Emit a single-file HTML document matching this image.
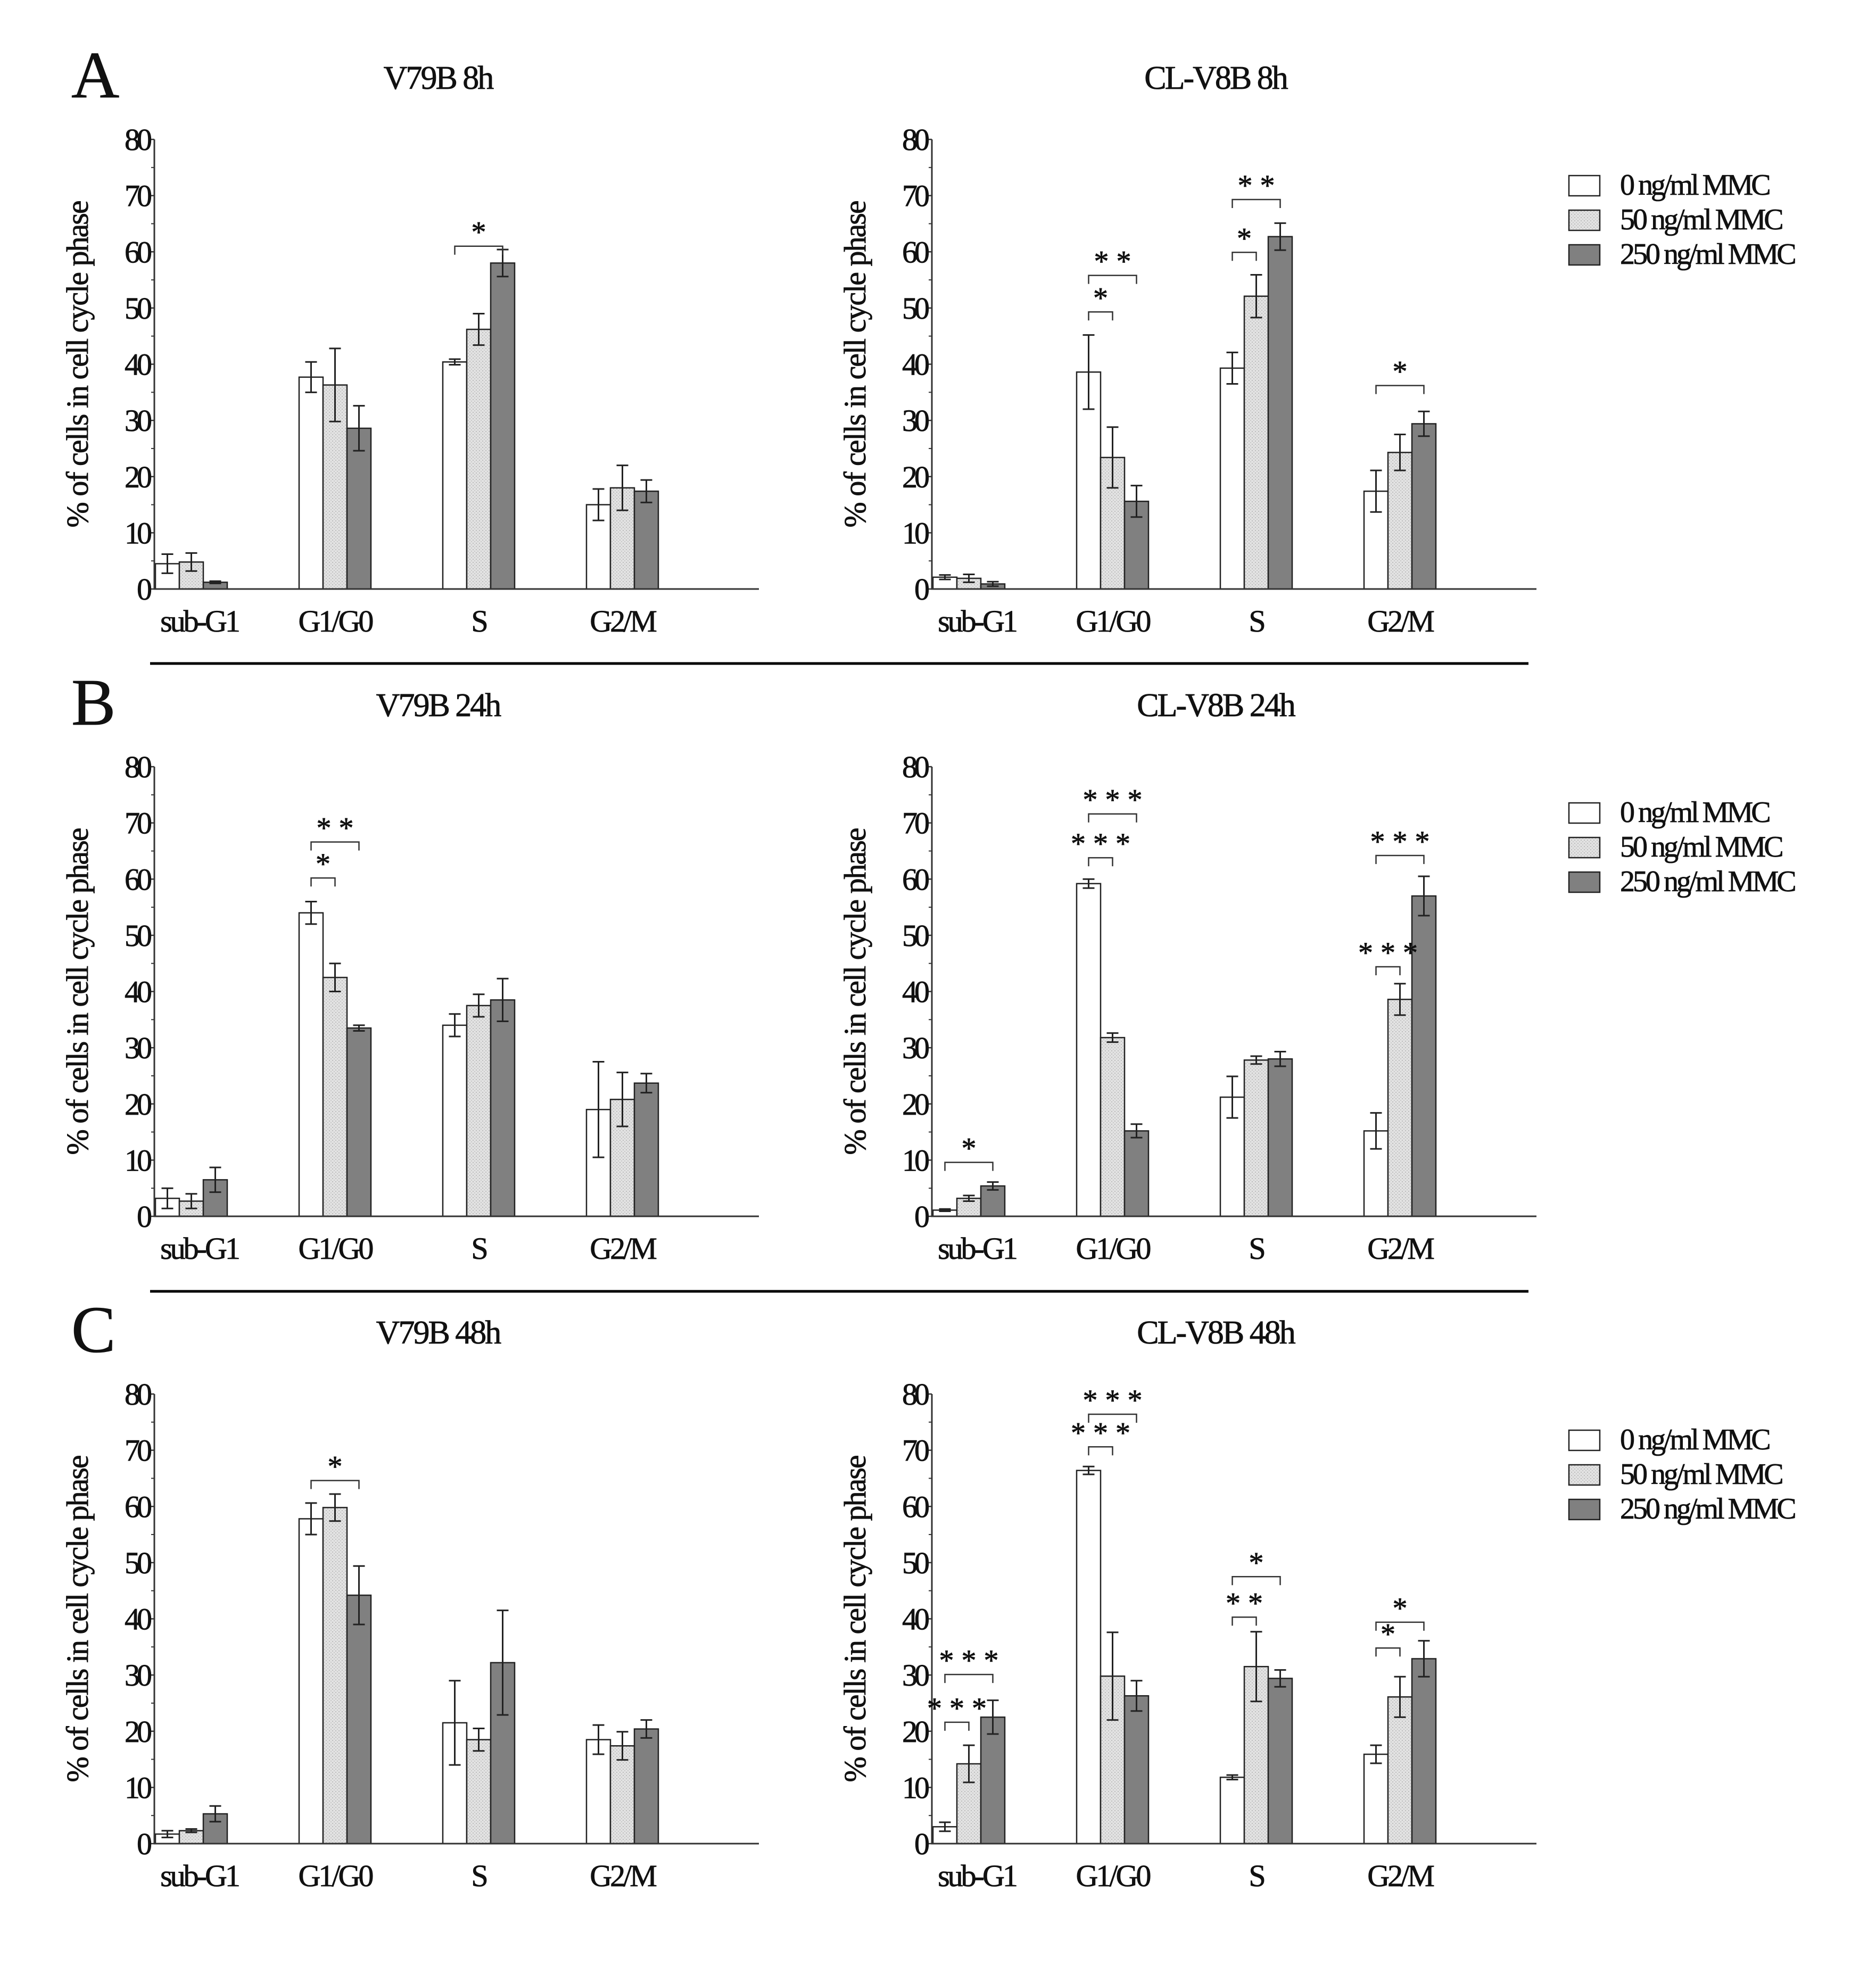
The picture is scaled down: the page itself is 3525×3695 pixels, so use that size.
<!DOCTYPE html>
<html><head><meta charset="utf-8"><style>
html,body{margin:0;padding:0;background:#fff;}
svg text{font-family:"Liberation Serif",serif;fill:#111;stroke:#111;stroke-width:0.8;}
</style></head><body>
<svg id="fig" xmlns="http://www.w3.org/2000/svg" width="3525" height="3690" viewBox="0 0 3525 3690">
<defs>
<pattern id="dots" width="6" height="6" patternUnits="userSpaceOnUse"><rect width="6" height="6" fill="#e2e2e2"/><rect x="0" y="0" width="2" height="2" fill="#bdbdbd"/><rect x="3" y="3" width="2" height="2" fill="#c8c8c8"/></pattern>
</defs>
<g id="root"></g>
</svg>
<script>
const categories = ["sub-G1","G1/G0","S","G2/M"];
const seriesNames = ["0 ng/ml MMC","50 ng/ml MMC","250 ng/ml MMC"];
const yTicks = [0,10,20,30,40,50,60,70,80];
const panelTitles = ["V79B 8h","CL-V8B 8h","V79B 24h","CL-V8B 24h","V79B 48h","CL-V8B 48h"];
const rowLetters = ["A","B","C"];
const means = [
 [[4.5,4.8,1.2],[37.7,36.3,28.6],[40.4,46.2,58.0],[15.0,18.0,17.4]],
 [[2.1,1.9,0.9],[38.6,23.4,15.6],[39.3,52.1,62.7],[17.4,24.3,29.4]],
 [[3.2,2.7,6.5],[54.0,42.5,33.5],[34.0,37.5,38.5],[19.0,20.8,23.7]],
 [[1.1,3.2,5.4],[59.2,31.8,15.2],[21.2,27.8,28.0],[15.2,38.6,57.0]],
 [[1.7,2.3,5.3],[57.8,59.8,44.2],[21.5,18.5,32.2],[18.5,17.4,20.4]],
 [[3.0,14.2,22.5],[66.4,29.8,26.3],[11.8,31.5,29.4],[15.9,26.1,32.9]]
];
const errors = [
 [[1.7,1.6,0.2],[2.7,6.5,4.0],[0.5,2.8,2.4],[2.8,4.0,2.0]],
 [[0.4,0.7,0.4],[6.6,5.4,2.8],[2.8,3.8,2.4],[3.7,3.2,2.2]],
 [[1.8,1.3,2.2],[2.0,2.5,0.5],[2.0,2.0,3.8],[8.5,4.8,1.7]],
 [[0.2,0.5,0.7],[0.8,0.8,1.2],[3.7,0.7,1.3],[3.2,2.8,3.5]],
 [[0.6,0.3,1.4],[2.8,2.4,5.2],[7.5,2.0,9.3],[2.6,2.5,1.6]],
 [[0.8,3.3,3.0],[0.7,7.8,2.7],[0.4,6.2,1.5],[1.6,3.6,3.2]]
];
const brackets = [
 [0,2,0,2,61,"*"],
 [1,1,0,1,49.3,"*"],[1,1,0,2,55.8,"* *"],[1,2,0,1,59.9,"*"],[1,2,0,2,69.3,"* *"],[1,3,0,2,36.2,"*"],
 [2,1,0,1,60.2,"*"],[2,1,0,2,66.6,"* *"],
 [3,0,0,2,9.6,"*"],[3,1,0,1,63.8,"* * *"],[3,1,0,2,71.6,"* * *"],[3,3,0,1,44.4,"* * *"],[3,3,0,2,64.2,"* * *"],
 [4,1,0,2,64.6,"*"],
 [5,0,0,1,21.6,"* * *"],[5,0,0,2,30.1,"* * *"],[5,1,0,1,70.6,"* * *"],[5,1,0,2,76.4,"* * *"],
 [5,2,0,1,40.3,"* *"],[5,2,0,2,47.5,"*"],[5,3,0,1,34.8,"*"],[5,3,0,2,39.4,"*"]
];

const NS="http://www.w3.org/2000/svg";
const root=document.getElementById('root');
function mk(tag,attrs,parent,txt){const e=document.createElementNS(NS,tag);for(const k in attrs)e.setAttribute(k,attrs[k]);if(txt!==undefined)e.textContent=txt;(parent||root).appendChild(e);return e;}
const fills=["#ffffff","url(#dots)","#808080"];
const ROW=1179, PX=10.5625, BW=45, GS=270;
function panelGeom(p){const r=Math.floor(p/2),c=p%2;return {x0:c?1751:290,zy:1107+r*ROW};}

for(let r=0;r<3;r++){
  const t=mk('text',{x:134,y:183+r*ROW,'font-size':125},root,rowLetters[r]);
  
  
  if(r<2){const l=mk('line',{x1:282,x2:2872,y1:1247+r*1180,y2:1247+r*1180,stroke:'#000','stroke-width':5});
    
    }
  const lg=mk('g',{});
  
  
  for(let s=0;s<3;s++){
    const cy=349+s*65+r*ROW;
    const b=mk('rect',{x:2948,y:cy-19,width:58,height:38,fill:fills[s],stroke:'#222','stroke-width':2.5},lg);
    
    
    const tx=mk('text',{x:3044,y:cy+17,'font-size':56,'letter-spacing':-4},lg,seriesNames[s]);
    
    
  }
}

function yScale(p,v){return panelGeom(p).zy - v*PX;}
function xBar(p,c,s){return panelGeom(p).x0+2+c*GS+s*BW;}

for(let p=0;p<6;p++){
  const {x0,zy}=panelGeom(p);
  const g=mk('g',{});
  
  
  const tt=mk('text',{x:x0+533,y:zy-940,'font-size':62,'text-anchor':'middle','letter-spacing':-3},g,panelTitles[p]);
  
  
  const yt=mk('text',{x:0,y:0,'font-size':58,'text-anchor':'middle','letter-spacing':-2,transform:`translate(${x0-125},${zy-422}) rotate(-90)`},g,'% of cells in cell cycle phase');
  
  
  for(let c=0;c<4;c++){
    for(let s=0;s<3;s++){
      const v=means[p][c][s],e=errors[p][c][s];
      const x=xBar(p,c,s),y=yScale(p,v);
      const b=mk('rect',{x:x,y:y,width:BW,height:zy-y,fill:fills[s],stroke:'#222','stroke-width':2.5},g);
      
      
      const cx=x+BW/2,yt1=yScale(p,v+e),yb=yScale(p,Math.max(0,v-e));
      const eb=mk('path',{d:`M${cx} ${yt1}V${yb}M${cx-11} ${yt1}H${cx+11}M${cx-11} ${yb}H${cx+11}`,stroke:'#222','stroke-width':3,fill:'none'},g);
      
      
    }
    const lb=mk('text',{x:xBar(p,c,1)+BW/2+(c==0?15:0),y:zy+80,'font-size':58,'text-anchor':'middle','letter-spacing':-4},g,categories[c]);
    
    
  }
  const ax=mk('path',{d:`M${x0} ${yScale(p,80)}V${zy}H${x0+1136}`,stroke:'#333','stroke-width':3,fill:'none'},g);
  
  
  for(let i=0;i<yTicks.length;i++){
    const y=yScale(p,yTicks[i]);
    mk('line',{x1:x0-10,x2:x0,y1:y,y2:y,stroke:'#333','stroke-width':2.5},g);
    if(i<yTicks.length-1){const ym=yScale(p,yTicks[i]+5);mk('line',{x1:x0-6,x2:x0,y1:ym,y2:ym,stroke:'#333','stroke-width':2},g);}
    const tl=mk('text',{x:x0-10,y:y+20,'font-size':58,'text-anchor':'end','letter-spacing':-6},g,String(yTicks[i]));
    
    
  }
}
for(const br of brackets){
  const [p,c,a,b,lv,st]=br;
  const xa=xBar(p,c,a)+BW/2,xb=xBar(p,c,b)+BW/2,y=yScale(p,lv),yd=y+16;
  const pth=mk('path',{d:`M${xa} ${yd}V${y}H${xb}V${yd}`,stroke:'#333','stroke-width':2.5,fill:'none'});
  
  
  const tx=mk('text',{x:(xa+xb)/2,y:y-8,'font-size':56,'text-anchor':'middle'},root,st);
  
  
}
</script>
</body></html>
